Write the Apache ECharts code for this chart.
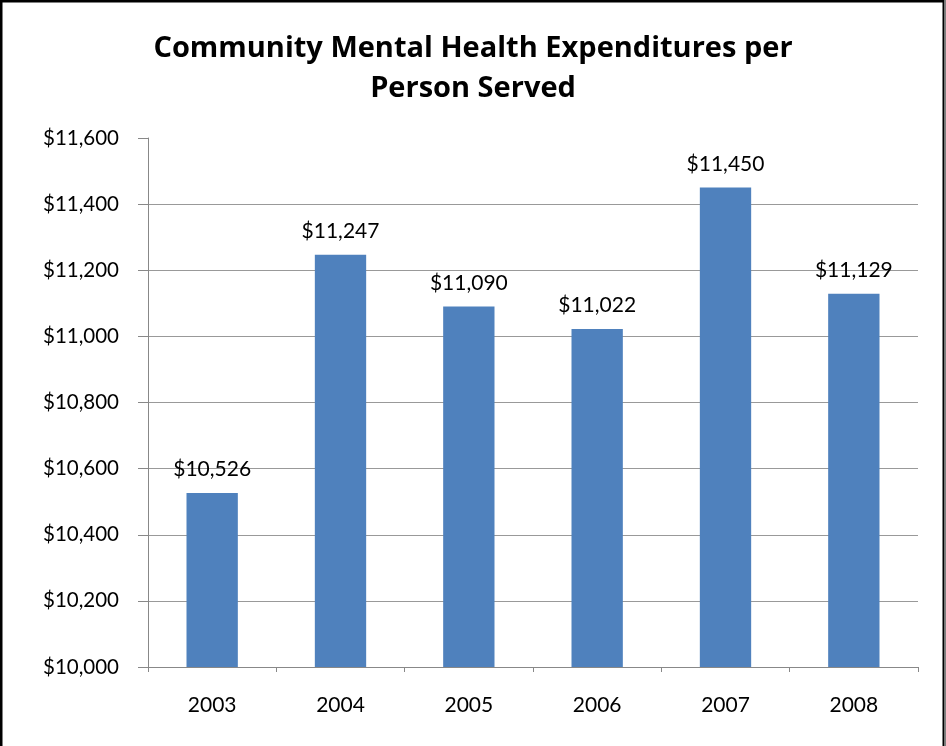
<!DOCTYPE html>
<html>
<head>
<meta charset="utf-8">
<script src="https://cdn.jsdelivr.net/npm/echarts@6/dist/echarts.min.js"></script>
<style>html,body{margin:0;padding:0;background:#fff;}#c{width:946px;height:746px;}</style>
</head>
<body>
<div id="c"></div>
<script>
const titleText = 'Community Mental Health Expenditures per\nPerson Served';
const categories = ['2003', '2004', '2005', '2006', '2007', '2008'];
const values = [10526, 11247, 11090, 11022, 11450, 11129];
const yMin = 10000, yMax = 11600, yStep = 200;

function money(v) { return '$' + Math.round(v).toLocaleString('en-US'); }

const chart = echarts.init(document.getElementById('c'));
chart.setOption({
  backgroundColor: '#fff',
  animation: false,
  title: {
    text: titleText,
    left: 'center',
    top: 24,
    textStyle: { fontFamily: 'Open Sans', fontWeight: 'bold', fontSize: 29, color: '#000', lineHeight: 40 }
  },
  graphic: [
    { type: 'rect', shape: { x: 1, y: 1, width: 943, height: 760 }, style: { fill: 'none', stroke: '#000', lineWidth: 3 } },
    { type: 'line', shape: { x1: 944.5, y1: 0, x2: 944.5, y2: 746 }, style: { stroke: '#777', lineWidth: 1 } }
  ],
  grid: { left: 148, right: 28, top: 138, bottom: 79, containLabel: false },
  xAxis: {
    type: 'category',
    data: categories,
    axisLine: { lineStyle: { color: '#888', width: 1 } },
    axisTick: { show: true, alignWithLabel: false, length: 5, lineStyle: { color: '#888' } },
    axisLabel: { margin: 28, fontFamily: 'Lato', fontSize: 21, color: '#000' }
  },
  yAxis: {
    type: 'value',
    min: yMin, max: yMax, interval: yStep,
    axisLine: { show: true, lineStyle: { color: '#888', width: 1 } },
    axisTick: { show: true, length: 10, lineStyle: { color: '#888' } },
    splitLine: { show: true, showMaxLine: false, lineStyle: { color: '#999', width: 1 } },
    axisLabel: { margin: 29, fontFamily: 'Lato', fontSize: 20.5, color: '#000', formatter: money }
  },
  series: [{
    type: 'bar',
    data: values,
    barWidth: '40%',
    itemStyle: { color: '#4F81BD' },
    label: { show: true, position: 'top', distance: 13, fontFamily: 'Lato', fontSize: 21, color: '#000', formatter: p => money(p.value) }
  }]
});
</script>
</body>
</html>
